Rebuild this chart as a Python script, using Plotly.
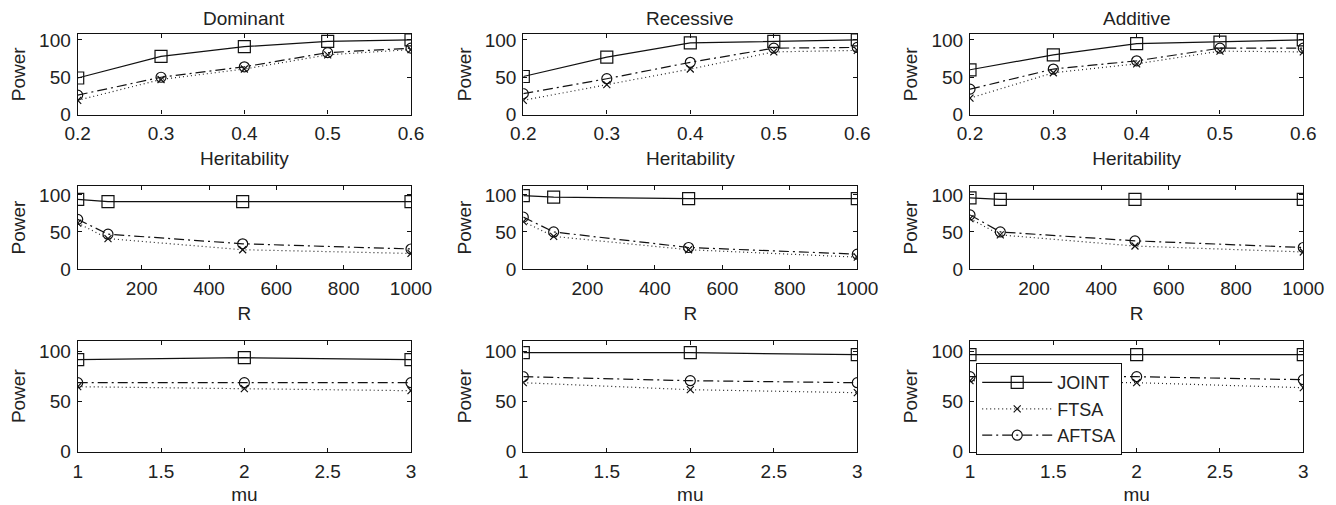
import plotly.graph_objects as go

# ---------------- data ----------------
models = ["Dominant", "Recessive", "Additive"]
series_names = ["JOINT", "FTSA", "AFTSA"]

heritability = [0.2, 0.3, 0.4, 0.5, 0.6]
R_values = [10, 100, 500, 1000]
mu_values = [1, 2, 3]

# Row 1: power vs heritability
her_joint = {"Dominant": [49, 78, 91, 98, 100],
             "Recessive": [51, 77, 96, 98, 100],
             "Additive": [60, 80, 95, 97, 100]}
her_ftsa = {"Dominant": [19, 47, 61, 80, 87],
            "Recessive": [19, 40, 61, 84, 86],
            "Additive": [22, 56, 68, 85, 84]}
her_aftsa = {"Dominant": [26, 50, 64, 83, 89],
             "Recessive": [28, 48, 70, 89, 90],
             "Additive": [34, 61, 72, 89, 89]}

# Row 2: power vs R
r_joint = {"Dominant": [94, 91, 91, 91],
           "Recessive": [99, 97, 95, 95],
           "Additive": [96, 94, 94, 94]}
r_ftsa = {"Dominant": [62, 41, 26, 21],
          "Recessive": [64, 44, 26, 16],
          "Additive": [68, 46, 31, 23]}
r_aftsa = {"Dominant": [67, 47, 34, 27],
           "Recessive": [70, 50, 29, 20],
           "Additive": [73, 50, 38, 29]}

# Row 3: power vs mu
mu_joint = {"Dominant": [92, 94, 92],
            "Recessive": [99, 99, 97],
            "Additive": [97, 97, 97]}
mu_ftsa = {"Dominant": [65, 63, 61],
           "Recessive": [69, 62, 59],
           "Additive": [71, 69, 64]}
mu_aftsa = {"Dominant": [69, 69, 69],
            "Recessive": [75, 71, 69],
            "Additive": [75, 75, 72]}

her_ticks = [0.2, 0.3, 0.4, 0.5, 0.6]
her_ticktext = ["0.2", "0.3", "0.4", "0.5", "0.6"]
r_ticks = [200, 400, 600, 800, 1000]
r_ticktext = ["200", "400", "600", "800", "1000"]
mu_ticks = [1, 1.5, 2, 2.5, 3]
mu_ticktext = ["1", "1.5", "2", "2.5", "3"]
power_ticks = [0, 50, 100]
power_ticktext = ["0", "50", "100"]

# ---------------- layout geometry (pixels) ----------------
W, H = 1336, 505
col_px = [(77.7, 411.0), (523.3, 857.3), (970.0, 1303.3)]
row_px = [(34.0, 114.5), (186.0, 269.0), (340.7, 451.7)]

FONT = "Liberation Sans, Arial, sans-serif"
FS = 19
TXT = "#222"

rows = [
    dict(x=heritability, data=(her_joint, her_ftsa, her_aftsa), xr=[0.2, 0.6],
         tv=her_ticks, tt=her_ticktext, xtitle="Heritability", yr=[0, 108]),
    dict(x=R_values, data=(r_joint, r_ftsa, r_aftsa), xr=[10, 1000],
         tv=r_ticks, tt=r_ticktext, xtitle="R", yr=[0, 112]),
    dict(x=mu_values, data=(mu_joint, mu_ftsa, mu_aftsa), xr=[1, 3],
         tv=mu_ticks, tt=mu_ticktext, xtitle="mu", yr=[0, 111]),
]

styles = [
    dict(line=dict(color="#111", width=1.2, dash="solid"),
         marker=dict(symbol="square-open", size=12, color="#111", line=dict(width=1.2))),
    dict(line=dict(color="#222", width=1.2, dash="1px,3px"),
         marker=dict(symbol="x-thin-open", size=7, color="#111", line=dict(width=1.2, color="#111"))),
    dict(line=dict(color="#111", width=1.2, dash="10px,4px,2px,4px"),
         marker=dict(symbol="circle-open", size=10, color="#111", line=dict(width=1.2))),
]

fig = go.Figure()
layout = dict(
    width=W, height=H,
    margin=dict(l=0, r=0, t=0, b=0),
    paper_bgcolor="white", plot_bgcolor="white",
    font=dict(family=FONT, size=FS, color=TXT),
    showlegend=True,
    legend=dict(x=976 / W, y=1 - 363 / H, xanchor="left", yanchor="top",
                bgcolor="white", bordercolor="#111", borderwidth=1.2,
                font=dict(size=18, family=FONT, color=TXT),
                itemwidth=70, tracegroupgap=0),
)
annotations = []

idx = 0
for r, rowdef in enumerate(rows):
    for c, model in enumerate(models):
        idx += 1
        xa = "x" if idx == 1 else f"x{idx}"
        ya = "y" if idx == 1 else f"y{idx}"
        for s, name in enumerate(series_names):
            fig.add_trace(go.Scatter(
                x=rowdef["x"], y=rowdef["data"][s][model],
                mode="lines+markers", name=name,
                line=styles[s]["line"], marker=styles[s]["marker"],
                xaxis=xa, yaxis=ya,
                showlegend=(r == 2 and c == 2),
            ))
        x0, x1 = col_px[c]
        y0, y1 = row_px[r]
        axcommon = dict(showline=True, linecolor="#111", linewidth=1.2, mirror="ticks",
                        ticks="inside", ticklen=4, tickcolor="#111", tickwidth=1,
                        showgrid=False, zeroline=False, automargin=False,
                        tickfont=dict(size=FS, family=FONT, color=TXT))
        layout["xaxis" if idx == 1 else f"xaxis{idx}"] = dict(
            axcommon, domain=[x0 / W, x1 / W], anchor=ya, range=rowdef["xr"],
            tickvals=rowdef["tv"], ticktext=rowdef["tt"], ticklabelstandoff=2,
            title=dict(text=rowdef["xtitle"], standoff=8,
                       font=dict(size=FS, family=FONT, color=TXT)))
        layout["yaxis" if idx == 1 else f"yaxis{idx}"] = dict(
            axcommon, domain=[1 - y1 / H, 1 - y0 / H], anchor=xa, range=rowdef["yr"],
            tickvals=power_ticks, ticktext=power_ticktext, ticklabelstandoff=2,
            title=dict(text="Power", standoff=8,
                       font=dict(size=FS, family=FONT, color=TXT)))
        if r == 0:
            annotations.append(dict(text=model, x=(x0 + x1) / 2 / W, y=1 - (y0 - 3) / H,
                                    xref="paper", yref="paper", xanchor="center",
                                    yanchor="bottom", showarrow=False,
                                    font=dict(size=FS, family=FONT, color=TXT)))

layout["annotations"] = annotations
fig.update_layout(**layout)
fig.write_html("out.html",
               config={"displayModeBar": False},
               post_script="document.body.style.margin='0';document.body.style.padding='0';")
